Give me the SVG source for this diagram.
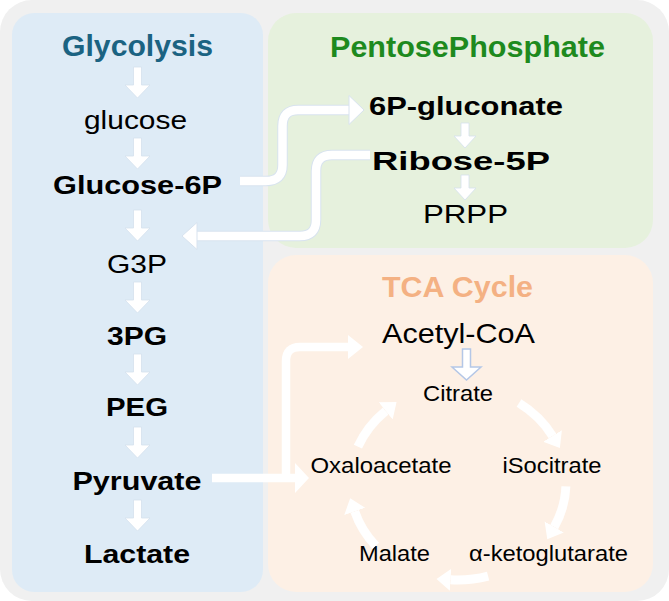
<svg xmlns="http://www.w3.org/2000/svg" width="669" height="601" viewBox="0 0 669 601">
<style>
text{font-family:"Liberation Sans",Arial,sans-serif;text-anchor:middle;fill:#000}
.b{font-weight:bold}
.t{font-weight:bold;font-size:29px}
.m{font-size:26.5px}
.s{font-size:22px}
.arr{fill:#fff;stroke:#d4e1ee;stroke-width:0.8}
.lnO{fill:none;stroke:#d8e3ef;stroke-width:10.5}
.ln{fill:none;stroke:#fff;stroke-width:8.5}
.cyc{fill:none;stroke:#fff;stroke-width:9;marker-end:url(#hd)}
</style>
<defs>
<polygon id="down" points="-4,0 4,0 4,18 12.5,18 0,31 -12.5,18 -4,18"/>
<polygon id="downS" points="-4,0 4,0 4,13 11,13 0,25 -11,13 -4,13"/>
<marker id="hd" markerUnits="userSpaceOnUse" markerWidth="16" markerHeight="26" refX="0" refY="12" orient="auto" viewBox="0 0 16 24">
<path d="M0,1 L14,12 L0,23 Z" fill="#fff"/>
</marker>
</defs>
<rect x="0" y="0" width="669" height="601" rx="32" fill="#f0f0f0"/>
<g id="glycolysis">
<rect x="12" y="13" width="251" height="579" rx="22" fill="#deebf6"/>
<text class="t" x="137.5" y="56" style="fill:#1b6382" textLength="151" lengthAdjust="spacingAndGlyphs">Glycolysis</text>
<text class="m" x="135.5" y="129" textLength="103" lengthAdjust="spacingAndGlyphs">glucose</text>
<text class="m b" x="137.5" y="194" textLength="169" lengthAdjust="spacingAndGlyphs">Glucose-6P</text>
<text class="m" x="137" y="273" textLength="60" lengthAdjust="spacingAndGlyphs">G3P</text>
<text class="m b" x="137" y="345" textLength="60" lengthAdjust="spacingAndGlyphs">3PG</text>
<text class="m b" x="137" y="416" textLength="62" lengthAdjust="spacingAndGlyphs">PEG</text>
<text class="m b" x="137" y="490" textLength="129" lengthAdjust="spacingAndGlyphs">Pyruvate</text>
<text class="m b" x="137" y="562.5" textLength="106" lengthAdjust="spacingAndGlyphs">Lactate</text>
</g>
<g id="pentose">
<rect x="268" y="13" width="385" height="235" rx="28" fill="#e6f1dd"/>
<text class="t" x="467.5" y="57" style="fill:#1e8a1e" textLength="275" lengthAdjust="spacingAndGlyphs">PentosePhosphate</text>
<text class="m b" x="466" y="115" textLength="194" lengthAdjust="spacingAndGlyphs">6P-gluconate</text>
<text class="m b" x="461" y="170" textLength="178" lengthAdjust="spacingAndGlyphs">Ribose-5P</text>
<text class="m" x="465.5" y="223" textLength="85" lengthAdjust="spacingAndGlyphs">PRPP</text>
</g>
<g id="tca">
<rect x="268" y="255" width="385" height="337" rx="28" fill="#fdf0e5"/>
<text class="t" x="457.5" y="296.5" style="fill:#f4b183" textLength="151" lengthAdjust="spacingAndGlyphs">TCA Cycle</text>
<text x="458.5" y="342.5" style="font-size:27.5px" textLength="153" lengthAdjust="spacingAndGlyphs">Acetyl-CoA</text>
<text class="s" x="458" y="400.5" textLength="70" lengthAdjust="spacingAndGlyphs">Citrate</text>
<text class="s" x="552" y="473" textLength="99" lengthAdjust="spacingAndGlyphs">iSocitrate</text>
<text class="s" x="381" y="473" textLength="141" lengthAdjust="spacingAndGlyphs">Oxaloacetate</text>
<text class="s" x="394.5" y="560.5" textLength="71" lengthAdjust="spacingAndGlyphs">Malate</text>
<text class="s" x="548.5" y="560.5" textLength="159" lengthAdjust="spacingAndGlyphs">α-ketoglutarate</text>
</g>
<g id="connectors">
<use href="#down" class="arr" x="137.5" y="67"/>
<use href="#down" class="arr" x="137.5" y="138"/>
<use href="#down" class="arr" x="137.5" y="210"/>
<use href="#down" class="arr" x="137.5" y="282"/>
<use href="#down" class="arr" x="137.5" y="354"/>
<use href="#down" class="arr" x="137.5" y="427"/>
<use href="#down" class="arr" x="137.5" y="500"/>
<use href="#downS" class="arr" x="465" y="123"/>
<use href="#downS" class="arr" x="465" y="175"/>
<polygon points="462.5,349 470.5,349 470.5,367 481,367 466.5,380 452,367 462.5,367" fill="#fff" stroke="#b4c7e7" stroke-width="1.5"/>
<path class="lnO" d="M240,181 H266 Q282.5,181 282.5,165 V126 Q282.5,110 298,110 H350"/>
<path class="lnO" d="M370,155 H332 Q316,155 316,171 V220 Q316,236 300,236 H197"/>
<path class="ln" d="M240,181 H266 Q282.5,181 282.5,165 V126 Q282.5,110 298,110 H350"/>
<path class="ln" d="M370,155 H332 Q316,155 316,171 V220 Q316,236 300,236 H197"/>
<polygon points="349,95.5 364,110 349,124.5" fill="#fff" stroke="#d8e3ef" stroke-width="1"/>
<polygon points="197,222.5 182,236 197,249.5" fill="#fff" stroke="#d8e3ef" stroke-width="1"/>
<path class="ln" d="M212,478 H296"/>
<path class="ln" d="M286,478 V361 Q286,347 300,347 H349"/>
<polygon points="295,463 309,478 295,493" fill="#fff"/>
<polygon points="348,335 363,347 348,359" fill="#fff"/>
<path class="cyc" d="M519,403 A108 97 0 0 1 552.5,436"/>
<path class="cyc" d="M565.9,486.4 A108 97 0 0 1 554.2,527"/>
<path class="cyc" d="M488.1,576.1 A108 97 0 0 1 450.5,579.8"/>
<path class="cyc" d="M375.8,545.9 A108 97 0 0 1 354.7,511.4"/>
<path class="cyc" d="M357.9,446.7 A108 97 0 0 1 385.7,410.9"/>
</g>
</svg>
